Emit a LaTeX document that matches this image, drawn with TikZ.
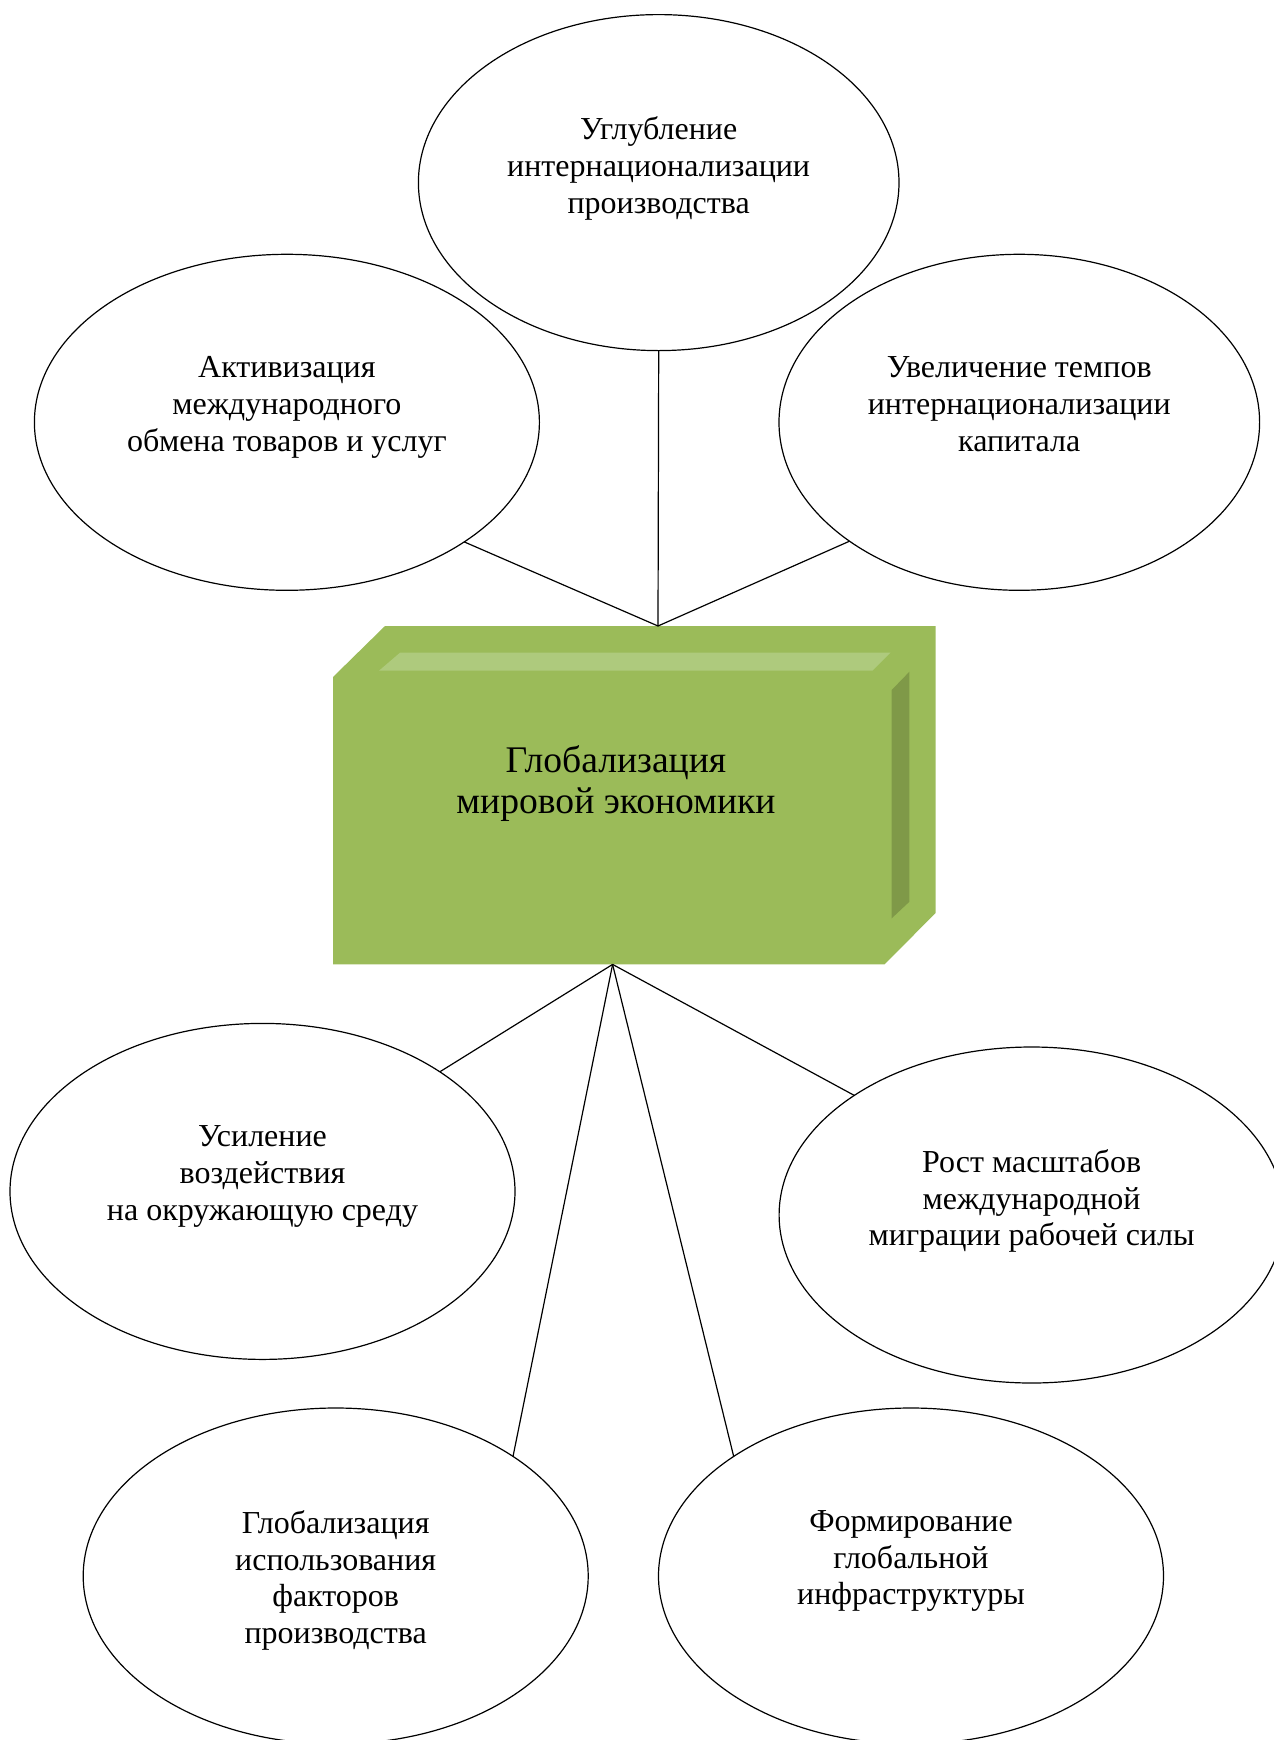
\documentclass[tikz,border=0pt]{standalone}
\usepackage{fontspec}
\setmainfont{Liberation Serif}
\usetikzlibrary{shapes.geometric, calc}

\definecolor{boxgreen}{RGB}{155,187,89}
\definecolor{boxlight}{RGB}{174,202,125}
\definecolor{boxdark}{RGB}{127,153,72}

\begin{document}
\begin{tikzpicture}[x=0.5pt, y=-0.5pt,
  % Define styles for different elements
  bubble/.style={draw, ellipse, line width=0.6pt, minimum width=#1, minimum height=168pt, inner sep=0pt, outer sep=0pt},
  bubble/.default=240.3pt,
  wide/.style={bubble=252.5pt},
  txt/.style={align=center, anchor=north, inner sep=0pt, font=\fontsize{16}{18.4}\selectfont},
  coretxt/.style={align=center, anchor=north, inner sep=0pt, font=\fontsize{18.8}{20.6}\selectfont},
  link/.style={line width=0.6pt}
]
\useasboundingbox (0,0) rectangle (1274,1740);

% Central block
\fill[boxgreen] (333,677) -- (385,626) -- (935.6,626) -- (935.6,913) -- (884.5,964.4) -- (333,964.4) -- cycle;
\fill[boxlight] (379,670.7) -- (400,652.7) -- (890.5,652.7) -- (872.4,670.7) -- cycle;
\fill[boxdark] (891.7,690) -- (909.4,671.7) -- (909.4,901.7) -- (891.7,918.3) -- cycle;
\node[coretxt] (core) at (616,745) {Глобализация\\мировой экономики};

\coordinate (hubtop) at (658,626);
\coordinate (hubbot) at (612.6,964.4);

% Upper row
\node[bubble] (deepen) at (658.7,182.6) {};
\node[txt] (deepentxt) at ($(deepen.center)+(0,-66)$) {Углубление\\интернационализации\\производства};

\node[wide] (trade) at (286.9,422.3) {};
\node[txt] (tradetxt) at ($(trade.center)+(0,-66)$) {Активизация\\международного\\обмена товаров и услуг};

\node[bubble] (capital) at (1019.3,422.3) {};
\node[txt] (capitaltxt) at ($(capital.center)+(0,-66)$) {Увеличение темпов\\интернационализации\\капитала};

% Lower rows
\node[wide] (ecology) at (262.5,1191.4) {};
\node[txt] (ecologytxt) at ($(ecology.center)+(0,-66)$) {Усиление\\воздействия\\на окружающую среду};

\node[wide] (labour) at (1031.6,1215) {};
\node[txt] (labourtxt) at ($(labour.center)+(0,-66)$) {Рост масштабов\\международной\\миграции рабочей силы};

\node[wide] (factors) at (335.7,1576) {};
\node[txt] (factorstxt) at ($(factors.center)+(0,-66)$) {Глобализация\\использования\\факторов\\производства};

\node[wide] (infra) at (911,1576) {};
\node[txt] (infratxt) at ($(infra.center)+(0,-66)$) {Формирование\\глобальной\\инфраструктуры};

% Connections
\draw[link] (hubtop) -- (deepen.south);
\draw[link] (hubtop) -- (trade.-34);
\draw[link] (hubtop) -- (capital.215);
\draw[link] (hubbot) -- (ecology.34);
\draw[link] (hubbot) -- (labour.146);
\draw[link] (hubbot) -- (factors.34);
\draw[link] (hubbot) -- (infra.146);

\end{tikzpicture}
\end{document}
